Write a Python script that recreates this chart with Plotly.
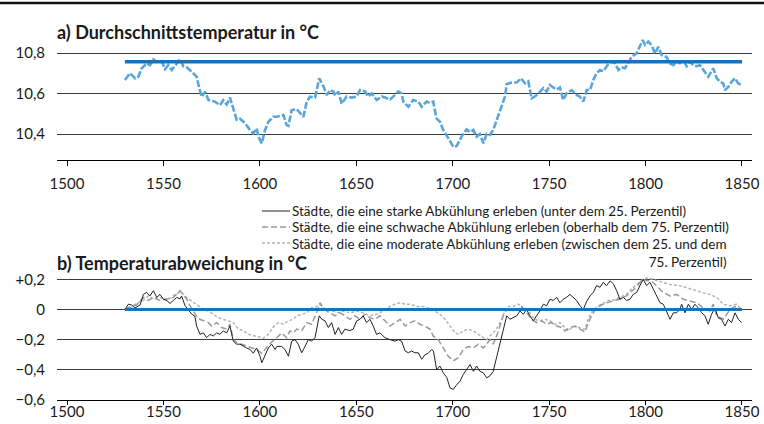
import plotly.graph_objects as go

# ---------------- data ----------------
# a) average temperature (°C)
years_a = [1530, 1532.7, 1535.3, 1537, 1538.7, 1541.3, 1543, 1544.8, 1546.5, 1549.1, 1550.8, 1552.5, 1554.3, 1556,
           1558.6, 1560.3, 1562, 1564.6, 1567.2, 1568, 1569.8, 1571.6, 1573.3, 1576.7, 1579.3, 1581, 1582.8, 1584.5,
           1586.2, 1588, 1589.7, 1592.3, 1594.9, 1596.6, 1598.4, 1599.2, 1601, 1602.7, 1604.4, 1607, 1608.7, 1612.2,
           1613.9, 1614.8, 1616.5, 1619.1, 1621.7, 1622.6, 1624.3, 1626, 1628.6, 1630.8, 1633, 1634.7, 1636.4, 1638.1,
           1639, 1640.7, 1642.4, 1645, 1647.6, 1650.2, 1651.9, 1654.5, 1656.2, 1658, 1660.6, 1663.2, 1664.9, 1667.5,
           1670.1, 1671.8, 1673.5, 1674.4, 1677, 1679.5, 1682.2, 1683.9, 1686.5, 1688.2, 1689.9, 1691.6, 1693.4, 1695.1,
           1697.7, 1700.3, 1702, 1704.6, 1707.2, 1709, 1710.7, 1712.4, 1714.1, 1715.9, 1717.6, 1719.3, 1721, 1722.8,
           1725.4, 1727.1, 1728, 1730.6, 1733.2, 1735.4, 1737.5, 1739.2, 1740.9, 1742.6, 1744.4, 1747, 1748.7, 1750.4,
           1752.1, 1753.9, 1755.6, 1757.3, 1759.1, 1761.7, 1764.3, 1766, 1767.7, 1769.5, 1771.2, 1772.9, 1774.6, 1776.4,
           1778.1, 1779.8, 1781.6, 1784.1, 1785.9, 1787.6, 1789.3, 1791, 1792.8, 1795.4, 1797.1, 1798.5, 1799.7, 1801.4,
           1803.1, 1804.9, 1806.6, 1808.3, 1810.9, 1812.6, 1814.4, 1816.1, 1817.8, 1819.5, 1821.3, 1823, 1824.7, 1826.5,
           1828.2, 1830.8, 1832.5, 1835.1, 1836.9, 1838.6, 1840.3, 1841.2, 1842.9, 1844.6, 1846.4, 1848.1, 1849.8]
temp_a = [10.667, 10.70, 10.675, 10.683, 10.724, 10.749, 10.74, 10.769, 10.757, 10.76, 10.72, 10.74, 10.716, 10.735,
          10.769, 10.735, 10.73, 10.708, 10.683, 10.65, 10.584, 10.609, 10.568, 10.56, 10.543, 10.567, 10.545, 10.58,
          10.52, 10.47, 10.475, 10.453, 10.42, 10.403, 10.428, 10.387, 10.354, 10.42, 10.46, 10.485, 10.485, 10.494,
          10.444, 10.44, 10.518, 10.523, 10.494, 10.485, 10.56, 10.584, 10.58, 10.675, 10.634, 10.593, 10.617, 10.61,
          10.59, 10.61, 10.55, 10.585, 10.58, 10.585, 10.617, 10.61, 10.585, 10.60, 10.568, 10.585, 10.58, 10.57,
          10.593, 10.61, 10.60, 10.56, 10.535, 10.568, 10.56, 10.535, 10.56, 10.553, 10.56, 10.477, 10.46, 10.42,
          10.38, 10.337, 10.34, 10.387, 10.423, 10.41, 10.42, 10.387, 10.40, 10.354, 10.40, 10.395, 10.42, 10.47,
          10.535, 10.584, 10.647, 10.654, 10.655, 10.675, 10.65, 10.66, 10.576, 10.585, 10.60, 10.626, 10.61, 10.642,
          10.63, 10.62, 10.63, 10.568, 10.60, 10.617, 10.593, 10.584, 10.56, 10.617, 10.617, 10.667, 10.70, 10.716,
          10.71, 10.732, 10.757, 10.75, 10.716, 10.73, 10.725, 10.75, 10.782, 10.798, 10.831, 10.864, 10.84, 10.856,
          10.84, 10.798, 10.831, 10.79, 10.78, 10.749, 10.74, 10.757, 10.75, 10.765, 10.735, 10.757, 10.74, 10.735,
          10.74, 10.708, 10.683, 10.724, 10.676, 10.658, 10.65, 10.617, 10.633, 10.658, 10.675, 10.65, 10.642]
mean_years = [1530, 1850]
mean_temp = 10.757

# b) temperature deviation (°C)
years_strong = [1530, 1531.8, 1533.5, 1535.2, 1537.9, 1539.6, 1541.3, 1543, 1544.8, 1546.5, 1548.2, 1549.9, 1551.7,
                1553.4, 1555.1, 1556.9, 1558.6, 1559.4, 1561.2, 1562.9, 1564.6, 1566.3, 1567.2, 1569, 1570.7, 1572.4,
                1574.1, 1575.9, 1577.6, 1579.3, 1581, 1582.8, 1584.5, 1586.2, 1588, 1589.7, 1591.4, 1593.1, 1594.9,
                1596.6, 1598.3, 1600.1, 1601, 1602.7, 1604.4, 1606.1, 1607.9, 1608.8, 1611.3, 1613, 1614.8, 1616.5,
                1618.2, 1619.9, 1621.7, 1623.4, 1625.1, 1626.8, 1628.6, 1630.8, 1632.1, 1633.8, 1635.5, 1637.2, 1639,
                1640.7, 1642.4, 1644.1, 1646.7, 1648.4, 1650.2, 1651.9, 1653.6, 1655.3, 1657.1, 1658.8, 1660.5, 1662.2,
                1664.9, 1667.5, 1670.1, 1671.8, 1673.5, 1675.3, 1677, 1678.7, 1680.4, 1682.2, 1683.9, 1685.6, 1687.3,
                1689.1, 1690, 1691.7, 1693.4, 1695.1, 1696.9, 1698.6, 1700.3, 1702, 1703.8, 1705.5, 1707.2, 1709,
                1710.7, 1712.4, 1714.1, 1715.9, 1717.6, 1719.3, 1721, 1722.8, 1724.5, 1726.2, 1728, 1729.7, 1731.4,
                1733.2, 1734.9, 1736.6, 1738.3, 1740, 1741.8, 1743.5, 1745.2, 1747, 1748.7, 1750.4, 1752.1, 1753.9,
                1755.6, 1757.3, 1759, 1760.8, 1762.5, 1764.2, 1766, 1767.7, 1769.5, 1771.2, 1772.9, 1774.6, 1776.4,
                1778.1, 1779.8, 1781.6, 1783.3, 1785, 1786.7, 1788.5, 1790.2, 1791.9, 1793.6, 1795.4, 1797.1, 1798.8,
                1800.5, 1802.3, 1804, 1805.7, 1807.5, 1809.2, 1810.9, 1812.7, 1814.4, 1816.1, 1817.8, 1818.7, 1820.4,
                1822.2, 1823.9, 1825.6, 1827.4, 1829.1, 1830.8, 1832.5, 1834.2, 1836, 1837.7, 1839.4, 1841.2, 1842.9,
                1844.6, 1846.4, 1848.1, 1849.8]
dev_strong = [0, 0.035, 0.03, 0.01, 0.03, 0.10, 0.113, 0.09, 0.125, 0.08, 0.10, 0.07, 0.06,
              0.04, 0.06, 0.08, 0.07, 0.09, 0.025, 0, -0.03, -0.045, -0.11, -0.165, -0.155, -0.187,
              -0.165, -0.175, -0.155, -0.165, -0.142, -0.155, -0.11, -0.21, -0.23, -0.23, -0.245, -0.255, -0.265,
              -0.29, -0.255, -0.31, -0.353, -0.30, -0.255, -0.23, -0.265, -0.245, -0.245, -0.265, -0.31, -0.21,
              -0.2, -0.23, -0.287, -0.245, -0.2, -0.21, -0.187, -0.042, -0.065, -0.075, -0.12, -0.087, -0.165,
              -0.12, -0.165, -0.13, -0.14, -0.13, -0.075, -0.065, -0.042, -0.087, -0.065, -0.11, -0.165, -0.155,
              -0.187, -0.2, -0.21, -0.2, -0.21, -0.275, -0.287, -0.275, -0.287, -0.287, -0.33, -0.30, -0.29,
              -0.265, -0.275, -0.40, -0.375, -0.42, -0.45, -0.52, -0.53, -0.50, -0.475, -0.43, -0.40, -0.365,
              -0.41, -0.375, -0.41, -0.42, -0.453, -0.44, -0.41, -0.31, -0.22, -0.13, -0.042, -0.065, -0.055,
              -0.042, -0.01, -0.032, 0, -0.042, -0.075, -0.042, -0.01, 0.035, 0.025, 0.068, 0.06, 0.08,
              0.045, 0.068, 0.08, 0.10, 0.08, 0.06, 0.025, 0, 0.055, 0.09, 0.113, 0.158, 0.147,
              0.18, 0.158, 0.19, 0.17, 0.125, 0.068, 0.08, 0.06, 0.068, 0.10, 0.113, 0.158, 0.2,
              0.158, 0.18, 0.135, 0.09, 0.045, 0.035, -0.01, -0.065, -0.022, -0.022, 0, 0.035, -0.022,
              0.035, 0, 0.035, 0.01, -0.022, -0.042, -0.098, -0.032, 0.01, -0.055, -0.065, -0.11, -0.065,
              -0.087, -0.022, -0.065, -0.087]

years_weak = [1530, 1533, 1536, 1539.6, 1542.2, 1544.8, 1548.2, 1551.7, 1555.1, 1558.6, 1560.3, 1562, 1563.8, 1565.5,
              1567.2, 1568.9, 1570.7, 1573.3, 1575, 1577.6, 1580.2, 1582.8, 1584.5, 1586.2, 1588, 1590.5, 1593.1,
              1595.7, 1598.3, 1601, 1603.6, 1606.1, 1608.8, 1611.3, 1613.9, 1615.6, 1617.4, 1619.1, 1621.7, 1624.3,
              1626.8, 1629.4, 1631.2, 1632.9, 1634.6, 1636.4, 1639, 1641.6, 1644.1, 1646.7, 1649.3, 1651.9, 1654.5,
              1657.1, 1659.7, 1662.2, 1664.9, 1667.5, 1670.1, 1672.7, 1675.3, 1677.9, 1680.4, 1683, 1685.6, 1688.2,
              1689.9, 1692.5, 1695.1, 1697.7, 1700.3, 1702, 1703, 1705.5, 1708.1, 1710.7, 1713.3, 1715.9, 1717.6,
              1719.3, 1721, 1722.8, 1724.5, 1726.2, 1728, 1730.6, 1733.2, 1735.7, 1738.3, 1740.9, 1743.5, 1746.1,
              1748.7, 1751.3, 1753.9, 1756.5, 1758.2, 1760.8, 1763.4, 1766, 1768.6, 1770, 1772, 1774, 1777, 1780,
              1783, 1786.7, 1790, 1793, 1795.4, 1797.1, 1798.8, 1801, 1803, 1805.7, 1809.2, 1812.7, 1816.1, 1819.5,
              1823, 1826.5, 1830, 1833.4, 1835.1, 1836.9, 1840.3, 1843.8, 1846.4, 1849]
dev_weak = [0, 0.02, 0.03, 0.08, 0.06, 0.08, 0.06, 0.07, 0.08, 0.125, 0.10, 0.07, 0.025, -0.01,
            -0.045, -0.065, -0.075, -0.087, -0.11, -0.087, -0.12, -0.13, -0.098, -0.2, -0.22, -0.23, -0.245,
            -0.255, -0.265, -0.29, -0.255, -0.215, -0.187, -0.155, -0.187, -0.142, -0.155, -0.13, -0.14, -0.087,
            -0.098, -0.022, 0.045, 0.01, -0.01, -0.022, -0.042, -0.022, -0.042, -0.065, -0.042, -0.065, -0.032,
            -0.055, -0.065, -0.042, -0.075, -0.11, -0.087, -0.065, -0.11, -0.087, -0.075, -0.098, -0.11, -0.13,
            -0.175, -0.2, -0.255, -0.31, -0.34, -0.33, -0.32, -0.265, -0.245, -0.255, -0.23, -0.255, -0.23,
            -0.2, -0.23, -0.175, -0.11, -0.042, 0, -0.01, 0, 0.02, -0.022, -0.065, -0.087, -0.075,
            -0.098, -0.087, -0.11, -0.12, -0.142, -0.12, -0.11, -0.13, -0.15, -0.1, -0.04, 0.0, 0.03, 0.045,
            0.055, 0.07, 0.09, 0.12, 0.15, 0.18, 0.2, 0.19, 0.19, 0.158, 0.113, 0.09, 0.1, 0.068,
            0.055, 0.045, 0.01, -0.01, 0.035, -0.042, -0.065, 0, 0.02, -0.01]

years_moderate = [1530, 1533, 1536, 1539.6, 1542.2, 1544.8, 1548.2, 1551.7, 1555.1, 1557.5, 1559.4, 1562, 1564.6,
                  1568, 1570.7, 1573.3, 1575.9, 1578.5, 1581, 1583.6, 1586.2, 1588.8, 1591.4, 1594, 1596.6, 1599.2,
                  1601.8, 1604.4, 1607, 1609.6, 1612.2, 1614.8, 1617.4, 1619.1, 1621.7, 1624.3, 1626.8, 1629.4,
                  1631.2, 1632.9, 1635.5, 1638.1, 1640.7, 1643.3, 1646.7, 1650.2, 1653.6, 1657.1, 1660.5, 1664,
                  1667.5, 1670.1, 1672.7, 1675.3, 1677.9, 1681.3, 1684.8, 1688.2, 1690.8, 1693.4, 1696, 1698.6,
                  1701.2, 1703, 1705.5, 1708.1, 1710.7, 1713.3, 1715.9, 1717.6, 1719.3, 1721.9, 1723.6, 1725.4,
                  1727.1, 1728.8, 1731.4, 1734, 1736.6, 1739.2, 1740.9, 1742.6, 1745.2, 1747.8, 1750.4, 1753,
                  1755.6, 1758.2, 1760, 1761.7, 1764.3, 1766.9, 1768.6, 1770, 1772, 1775, 1778, 1781, 1784, 1786.7,
                  1790, 1793, 1796, 1798.8, 1801, 1804, 1806, 1809.2, 1813, 1817.8, 1822, 1826.5, 1830, 1833.4,
                  1836.9, 1840.3, 1843.8, 1847.2, 1849.8]
dev_moderate = [0, 0.01, 0.04, 0.06, 0.09, 0.07, 0.08, 0.06, 0.09, 0.11, 0.113, 0.08, 0.055,
                0.025, 0, -0.01, -0.032, -0.055, -0.065, -0.075, -0.087, -0.13, -0.14, -0.165, -0.175, -0.185,
                -0.19, -0.165, -0.115, -0.087, -0.098, -0.075, -0.065, -0.042, -0.032, -0.022, 0.01, 0.02,
                0.035, 0.01, 0, -0.01, -0.022, -0.01, -0.022, -0.01, -0.022, -0.042, -0.032, -0.01,
                0.02, 0.035, 0.045, 0.035, 0.035, 0.02, 0.02, 0.005, -0.01, -0.032, -0.065, -0.11,
                -0.155, -0.165, -0.142, -0.13, -0.142, -0.165, -0.187, -0.2, -0.175, -0.142, -0.11, -0.065,
                -0.01, 0.02, 0.02, 0.035, 0.01, 0, -0.042, -0.065, -0.075, -0.065, -0.075, -0.098,
                -0.087, -0.12, -0.142, -0.12, -0.11, -0.13, -0.13, -0.07, -0.02, 0.02, 0.04, 0.06, 0.065, 0.08,
                0.1, 0.14, 0.17, 0.2, 0.21, 0.2, 0.19, 0.18, 0.165, 0.158, 0.14, 0.125, 0.11, 0.10,
                0.08, 0.035, 0.025, 0.035, 0]
zero_years = [1530, 1850]
zero_dev = 0

x_ticks = [1500, 1550, 1600, 1650, 1700, 1750, 1800, 1850]
a_ticks = [10.4, 10.6, 10.8]
a_ticktext = ["10,4", "10,6", "10,8"]
b_ticks = [-0.6, -0.4, -0.2, 0, 0.2]
b_ticktext = ["\u22120,6", "\u22120,4", "\u22120,2", "0", "+0,2"]

legend_labels = [
    "Städte, die eine starke Abkühlung erleben (unter dem 25. Perzentil)",
    "Städte, die eine schwache Abkühlung erleben (oberhalb dem 75. Perzentil)",
    "Städte, die eine moderate Abkühlung erleben (zwischen dem 25. und dem<br>75. Perzentil)",
]
title_a = "a) Durchschnittstemperatur in °C"
title_b = "b) Temperaturabweichung in °C"

# ---------------- styling ----------------
W, H = 764, 424
FONT = "Lato, 'Source Sans Pro', 'Noto Sans', sans-serif"
TXT = "#1a1a1a"
LIGHT_BLUE = "#5aa5da"
DARK_BLUE = "#1a72b8"
GRID = "#3c3c3c"

def px(x):
    return x / W

def py(y):
    return 1 - y / H

fig = go.Figure()

fig.add_trace(go.Scatter(x=years_a, y=temp_a, mode="lines", xaxis="x", yaxis="y",
                         line=dict(color=LIGHT_BLUE, width=2.6, dash="7px,2px"), showlegend=False,
                         hoverinfo="skip"))
fig.add_trace(go.Scatter(x=mean_years, y=[mean_temp] * len(mean_years), mode="lines", xaxis="x", yaxis="y",
                         line=dict(color=DARK_BLUE, width=3.5), showlegend=False, hoverinfo="skip"))

fig.add_trace(go.Scatter(x=years_moderate, y=dev_moderate, mode="lines", xaxis="x2", yaxis="y2",
                         line=dict(color="#b4b4b4", width=1.5, dash="3px,2px"), showlegend=False,
                         hoverinfo="skip"))
fig.add_trace(go.Scatter(x=years_weak, y=dev_weak, mode="lines", xaxis="x2", yaxis="y2",
                         line=dict(color="#9a9a9a", width=1.5, dash="6px,3px"), showlegend=False,
                         hoverinfo="skip"))
fig.add_trace(go.Scatter(x=years_strong, y=dev_strong, mode="lines", xaxis="x2", yaxis="y2",
                         line=dict(color="#222222", width=1), showlegend=False, hoverinfo="skip"))
fig.add_trace(go.Scatter(x=zero_years, y=[zero_dev] * len(zero_years), mode="lines", xaxis="x2", yaxis="y2",
                         line=dict(color=DARK_BLUE, width=3), showlegend=False, hoverinfo="skip"))

xrange = [1494.8, 1855.2]
xdom = [px(57), px(752)]

common_x = dict(range=xrange, domain=xdom, tickvals=x_ticks, showgrid=False, zeroline=False, automargin=False,
                showline=True, linecolor="#000000", linewidth=1, ticks="outside",
                tickcolor="#000000", tickwidth=1, tickfont=dict(size=15, color=TXT, family=FONT))
common_y = dict(showgrid=True, gridcolor=GRID, gridwidth=1, zeroline=False, showline=False, ticks="",
                automargin=False, tickfont=dict(size=15, color=TXT, family=FONT), ticklabelstandoff=11)

fig.update_layout(
    width=W, height=H,
    margin=dict(l=0, r=0, t=0, b=0),
    paper_bgcolor="white", plot_bgcolor="white",
    font=dict(family=FONT, color=TXT),
    showlegend=False,
    xaxis=dict(anchor="y", ticklen=5, ticklabelstandoff=5, **common_x),
    yaxis=dict(anchor="x", domain=[py(160), py(36.8)], range=[10.2716, 10.88],
               tickvals=a_ticks, ticktext=a_ticktext, **common_y),
    xaxis2=dict(anchor="y2", ticklen=4, ticklabelstandoff=-6, **common_x),
    yaxis2=dict(anchor="x2", domain=[py(400), py(276.3)], range=[-0.6, 0.22],
                tickvals=b_ticks, ticktext=b_ticktext, **common_y),
)

# top rule
fig.add_shape(type="line", xref="paper", yref="paper", x0=0, x1=1, y0=py(3), y1=py(3),
              line=dict(color="#111111", width=2.5))

# panel titles
fig.add_annotation(text="<b>" + title_a + "</b>", xref="paper", yref="paper", x=px(55), y=py(32),
                   xanchor="left", yanchor="middle", showarrow=False, font=dict(size=18, color=TXT, family=FONT))
fig.add_annotation(text="<b>" + title_b + "</b>", xref="paper", yref="paper", x=px(55), y=py(263),
                   xanchor="left", yanchor="middle", showarrow=False, font=dict(size=18, color=TXT, family=FONT))

# legend
leg_styles = [dict(color="#222222", width=1), dict(color="#9a9a9a", width=1.5, dash="6px,3px"),
              dict(color="#b4b4b4", width=1.5, dash="3px,2px")]
leg_y = [211, 227, 243]
for i, lab in enumerate(legend_labels):
    fig.add_shape(type="line", xref="paper", yref="paper", x0=px(262), x1=px(290), y0=py(leg_y[i]),
                  y1=py(leg_y[i]), line=leg_styles[i])
    if i < 2:
        fig.add_annotation(text=lab, xref="paper", yref="paper", x=px(290), y=py(leg_y[i]),
                           xanchor="left", yanchor="middle", showarrow=False, align="left",
                           font=dict(size=13.5, color=TXT, family=FONT))
    else:
        fig.add_annotation(text=lab, xref="paper", yref="paper", x=px(290), y=py(leg_y[i] - 9.5),
                           xanchor="left", yanchor="top", showarrow=False, align="right",
                           font=dict(size=13.5, color=TXT, family=FONT))

fig.write_html("out.html", config={"displayModeBar": False},
               post_script="document.body.style.margin='0';document.body.style.padding='0';")
